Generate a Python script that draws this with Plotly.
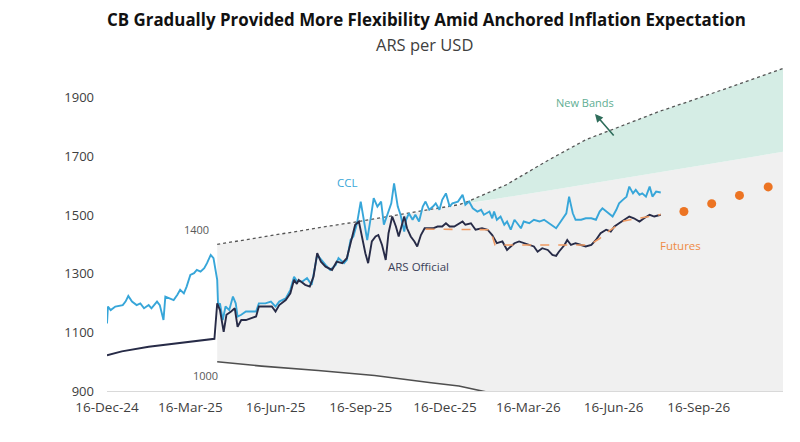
import plotly.graph_objects as go

# ---------------- data ----------------
ccl_dates = [
    "2024-12-16", "2024-12-17", "2024-12-20", "2024-12-25",
    "2025-01-02", "2025-01-05", "2025-01-08", "2025-01-12", "2025-01-17", "2025-01-21", "2025-01-25", "2025-01-30",
    "2025-02-02", "2025-02-08", "2025-02-11", "2025-02-15", "2025-02-17", "2025-02-22", "2025-02-26",
    "2025-03-02", "2025-03-05", "2025-03-09", "2025-03-12", "2025-03-16", "2025-03-20", "2025-03-23", "2025-03-27", "2025-03-31",
    "2025-04-03", "2025-04-07", "2025-04-10", "2025-04-14", "2025-04-15", "2025-04-17", "2025-04-20", "2025-04-23", "2025-04-27",
    "2025-05-01", "2025-05-04", "2025-05-06", "2025-05-10", "2025-05-15", "2025-05-21", "2025-05-26", "2025-05-29",
    "2025-06-05", "2025-06-11", "2025-06-16", "2025-06-20", "2025-06-23", "2025-06-27",
    "2025-07-02", "2025-07-06", "2025-07-09", "2025-07-15", "2025-07-20", "2025-07-25", "2025-07-31",
    "2025-08-04", "2025-08-09", "2025-08-14", "2025-08-20", "2025-08-23", "2025-08-29",
    "2025-09-01", "2025-09-05", "2025-09-08", "2025-09-12", "2025-09-16", "2025-09-19", "2025-09-23", "2025-09-27", "2025-09-30",
    "2025-10-04", "2025-10-08", "2025-10-11", "2025-10-15", "2025-10-19", "2025-10-22", "2025-10-26", "2025-10-29",
    "2025-11-02", "2025-11-04", "2025-11-07", "2025-11-11", "2025-11-14", "2025-11-18", "2025-11-22", "2025-11-25", "2025-11-29",
    "2025-12-03", "2025-12-06", "2025-12-10", "2025-12-13", "2025-12-17", "2025-12-21", "2025-12-24", "2025-12-30",
    "2026-01-04", "2026-01-07", "2026-01-11", "2026-01-15", "2026-01-20", "2026-01-24", "2026-01-27",
    "2026-02-02", "2026-02-05", "2026-02-07", "2026-02-10", "2026-02-14", "2026-02-18", "2026-02-21", "2026-02-25",
    "2026-03-01", "2026-03-04", "2026-03-08", "2026-03-11", "2026-03-17", "2026-03-22", "2026-03-28",
    "2026-04-02", "2026-04-07", "2026-04-15", "2026-04-20", "2026-04-26", "2026-04-29",
    "2026-05-03", "2026-05-06", "2026-05-12", "2026-05-17", "2026-05-23", "2026-05-28",
    "2026-06-01", "2026-06-04", "2026-06-08", "2026-06-11", "2026-06-15", "2026-06-19", "2026-06-22", "2026-06-26", "2026-06-30",
    "2026-07-03", "2026-07-07", "2026-07-10", "2026-07-14", "2026-07-17", "2026-07-21", "2026-07-25", "2026-07-28",
    "2026-08-01", "2026-08-06",
]
ccl_values = [
    1130, 1188, 1176, 1188,
    1193, 1205, 1224, 1205, 1193, 1199, 1182, 1193,
    1182, 1205, 1193, 1142, 1222, 1216, 1210,
    1228, 1245, 1233, 1256, 1296, 1302, 1313, 1307, 1319,
    1336, 1364, 1353, 1279, 1188, 1199, 1142, 1188, 1176,
    1222, 1199, 1154, 1160, 1171, 1171, 1171, 1199,
    1199, 1205, 1188, 1205, 1210, 1216,
    1245, 1290, 1275, 1273, 1285, 1262, 1364,
    1347, 1330, 1313, 1330, 1353, 1336,
    1347, 1415, 1427, 1472, 1546, 1484, 1415, 1495, 1558,
    1529, 1546, 1467, 1506, 1540, 1608, 1529, 1501,
    1444, 1484, 1506, 1484, 1501, 1478, 1529, 1546, 1518,
    1529, 1540, 1518, 1552, 1574, 1529, 1540, 1546,
    1569, 1535, 1546, 1523, 1512, 1518, 1501,
    1512, 1489, 1512, 1484, 1495, 1467, 1478, 1450,
    1484, 1472, 1455, 1478, 1472, 1484, 1478,
    1484, 1472, 1455, 1478, 1506, 1563,
    1506, 1484, 1484, 1489, 1489, 1484,
    1512, 1523, 1512, 1506, 1495, 1518, 1540, 1552, 1563,
    1597, 1574, 1586, 1569, 1574, 1563, 1597, 1563,
    1580, 1577,
]

official_dates = [
    "2024-12-16", "2025-01-01", "2025-01-30", "2025-02-24", "2025-03-20", "2025-04-11",
    "2025-04-14", "2025-04-17", "2025-04-21", "2025-04-24", "2025-04-29",
    "2025-05-03", "2025-05-06", "2025-05-10", "2025-05-15", "2025-05-21", "2025-05-26", "2025-05-29",
    "2025-06-05", "2025-06-12", "2025-06-16", "2025-06-20", "2025-06-27",
    "2025-07-02", "2025-07-06", "2025-07-09", "2025-07-11", "2025-07-18", "2025-07-23", "2025-07-27", "2025-07-31",
    "2025-08-04", "2025-08-09", "2025-08-16", "2025-08-21", "2025-08-27",
    "2025-09-01", "2025-09-05", "2025-09-10", "2025-09-14", "2025-09-17", "2025-09-21", "2025-09-24", "2025-09-28",
    "2025-10-02", "2025-10-05", "2025-10-09", "2025-10-13", "2025-10-16", "2025-10-20", "2025-10-24", "2025-10-27", "2025-10-29",
    "2025-11-02", "2025-11-05", "2025-11-09", "2025-11-13", "2025-11-16", "2025-11-20", "2025-11-24", "2025-11-27",
    "2025-12-03", "2025-12-08", "2025-12-13", "2025-12-17", "2025-12-21", "2025-12-26", "2025-12-31",
    "2026-01-04", "2026-01-07", "2026-01-13", "2026-01-18", "2026-01-25", "2026-01-31",
    "2026-02-05", "2026-02-10", "2026-02-16", "2026-02-21", "2026-02-25",
    "2026-03-01", "2026-03-06", "2026-03-11", "2026-03-17", "2026-03-22", "2026-03-26", "2026-03-31",
    "2026-04-06", "2026-04-11", "2026-04-15", "2026-04-18", "2026-04-24", "2026-04-27",
    "2026-05-01", "2026-05-06", "2026-05-12", "2026-05-17", "2026-05-23", "2026-05-28",
    "2026-06-02", "2026-06-08", "2026-06-13", "2026-06-17", "2026-06-22", "2026-06-28",
    "2026-07-03", "2026-07-08", "2026-07-14", "2026-07-19", "2026-07-25", "2026-07-30",
    "2026-08-06",
]
official_values = [
    1022, 1035, 1051, 1060, 1068, 1078,
    1199, 1176, 1102, 1160, 1171,
    1182, 1119, 1142, 1142, 1148, 1154, 1188,
    1188, 1188, 1171, 1193, 1210,
    1233, 1279, 1265, 1279, 1262, 1256, 1290, 1370,
    1341, 1324, 1313, 1341, 1336,
    1353, 1404, 1467, 1478, 1427, 1370, 1336, 1410,
    1427, 1432, 1398, 1347, 1438, 1495, 1461, 1427, 1450,
    1495, 1455, 1427, 1410, 1393, 1432, 1455, 1455,
    1455, 1461, 1461, 1472, 1461, 1461, 1472,
    1478, 1467, 1472, 1450, 1455, 1450,
    1432, 1404, 1410, 1381, 1393,
    1404, 1410, 1404, 1398, 1393, 1375, 1387,
    1381, 1364, 1361, 1375, 1398, 1415,
    1398, 1404, 1398, 1393, 1398, 1415,
    1438, 1450, 1444, 1461, 1472, 1484,
    1495, 1489, 1478, 1489, 1501, 1495,
    1501,
]

futures_line_dates = ["2025-11-25", "2026-02-03", "2026-02-08", "2026-05-21", "2026-06-01",
                      "2026-06-11", "2026-06-27", "2026-07-14", "2026-08-06"]
futures_line_values = [1452, 1450, 1398, 1398, 1420, 1445, 1480, 1490, 1502]

futures_dot_dates = ["2026-08-31", "2026-09-30", "2026-10-30", "2026-11-30"]
futures_dot_values = [1512, 1539, 1567, 1596]

# old band (Apr-2025 to Jan-2026)
band_a_dates = ["2025-04-14", "2025-05-14", "2025-06-14", "2025-07-14", "2025-08-14",
                "2025-09-14", "2025-10-14", "2025-11-14", "2025-12-14", "2026-01-01"]
upper_a = [1400, 1416, 1431, 1447, 1463, 1478, 1494, 1510, 1526, 1536]

# new band period (Jan-2026 onwards)
band_b_dates = ["2026-01-01", "2026-01-11", "2026-02-20", "2026-04-07", "2026-05-17",
                "2026-06-19", "2026-08-04", "2026-09-16", "2026-10-22", "2026-12-16"]
upper_new_b = [1536, 1548, 1603, 1688, 1757, 1797, 1853, 1899, 1939, 2000]
upper_old_b = [1536, 1541, 1561, 1584, 1605, 1622, 1646, 1668, 1687, 1716]

lower_dates = ["2025-04-14", "2025-06-01", "2025-08-01", "2025-10-01", "2025-12-01",
               "2025-12-31", "2026-01-25", "2026-12-16"]
lower_values = [1000, 985, 970, 953, 928, 917, 900, 680]

tick_dates = ["2024-12-16", "2025-03-16", "2025-06-16", "2025-09-16",
              "2025-12-16", "2026-03-16", "2026-06-16", "2026-09-16"]
tick_labels = ["16-Dec-24", "16-Mar-25", "16-Jun-25", "16-Sep-25",
               "16-Dec-25", "16-Mar-26", "16-Jun-26", "16-Sep-26"]
y_ticks = [900, 1100, 1300, 1500, 1700, 1900]

# ---------------- figure ----------------
FONT = "Open Sans"
W, H = 800, 442
ML, MR, MT, MB = 107, 17, 67, 51
PW, PH = W - ML - MR, H - MT - MB


def px(x, y):
    return (x - ML) / PW, (H - MB - y) / PH


fig = go.Figure()

# gray band area (old band, incl. its extension)
gx = band_a_dates + band_b_dates[1:] + lower_dates[::-1]
gy = upper_a + upper_old_b[1:] + lower_values[::-1]
fig.add_trace(go.Scatter(x=gx, y=gy, fill="toself", fillcolor="#f0f0f0",
                         line=dict(width=0), mode="lines", hoverinfo="skip"))

# green new-band area
nx = band_b_dates + band_b_dates[::-1]
ny = upper_new_b + upper_old_b[::-1]
fig.add_trace(go.Scatter(x=nx, y=ny, fill="toself", fillcolor="#d5ede5",
                         line=dict(width=0), mode="lines", hoverinfo="skip"))

# upper band dotted line
fig.add_trace(go.Scatter(x=band_a_dates + band_b_dates[1:], y=upper_a + upper_new_b[1:],
                         mode="lines", line=dict(color="#555555", width=1.3, dash="dot")))

# lower band line
fig.add_trace(go.Scatter(x=lower_dates, y=lower_values, mode="lines",
                         line=dict(color="#4f4f4f", width=1.6)))

# CCL
fig.add_trace(go.Scatter(x=ccl_dates, y=ccl_values, mode="lines",
                         line=dict(color="#37a6d9", width=1.9)))

# Official
fig.add_trace(go.Scatter(x=official_dates, y=official_values, mode="lines",
                         line=dict(color="#272b47", width=1.9)))

# Futures dashed line
fig.add_trace(go.Scatter(x=futures_line_dates, y=futures_line_values, mode="lines",
                         line=dict(color="#ef9a63", width=1.6, dash="dash")))

# Futures dots
fig.add_trace(go.Scatter(x=futures_dot_dates, y=futures_dot_values, mode="markers",
                         marker=dict(color="#ec7423", size=9)))

annotations = []


def label(text, x, y, color, size=12, bold=False):
    xp, yp = px(x, y)
    annotations.append(dict(text=f"<b>{text}</b>" if bold else text, x=xp, y=yp,
                            xref="paper", yref="paper", xanchor="center", yanchor="middle",
                            showarrow=False, font=dict(family=FONT, size=size, color=color)))


label("CB Gradually Provided More Flexibility Amid Anchored Inflation Expectation",
      426, 19, "#111111", size=16.9, bold=True)
label("ARS per USD", 424, 45, "#404040", size=16.5)
label("1400", 196, 229, "#595959", size=11)
label("1000", 205, 375, "#595959", size=11)
label("CCL", 347, 182, "#3aa7d8", size=11.5)
label("ARS Official", 418, 266, "#3a3e58", size=11.5)
label("New Bands", 585, 102, "#5fae93", size=11)
label("Futures", 680, 245, "#ef8b45", size=11.5)

hx, hy = px(595, 114)
annotations.append(dict(text="", x=hx, y=hy, xref="paper", yref="paper", showarrow=True,
                        ax=20, ay=23, arrowhead=2, arrowsize=1, arrowwidth=1.6,
                        arrowcolor="#2f6d5b", standoff=0))

fig.update_layout(
    width=W, height=H,
    margin=dict(l=ML, r=MR, t=MT, b=MB),
    paper_bgcolor="white", plot_bgcolor="white",
    showlegend=False,
    annotations=annotations,
    font=dict(family=FONT, color="#404040"),
)
fig.update_xaxes(
    type="date", range=["2024-12-16", "2026-12-16"],
    tickvals=tick_dates, ticktext=tick_labels,
    tickfont=dict(family=FONT, size=13.5, color="#404040"),
    showgrid=False, zeroline=False, showline=True, linecolor="#d9d9d9", linewidth=1,
    ticks="", ticklabelstandoff=4,
)
fig.update_yaxes(
    range=[900, 2005], tickvals=y_ticks,
    tickfont=dict(family=FONT, size=13, color="#404040"),
    showgrid=False, zeroline=False, showline=False, ticks="", ticklabelstandoff=12,
)

fig.write_html("out.html", config={"displayModeBar": False},
               post_script="document.body.style.margin='0';document.body.style.overflow='hidden';")
